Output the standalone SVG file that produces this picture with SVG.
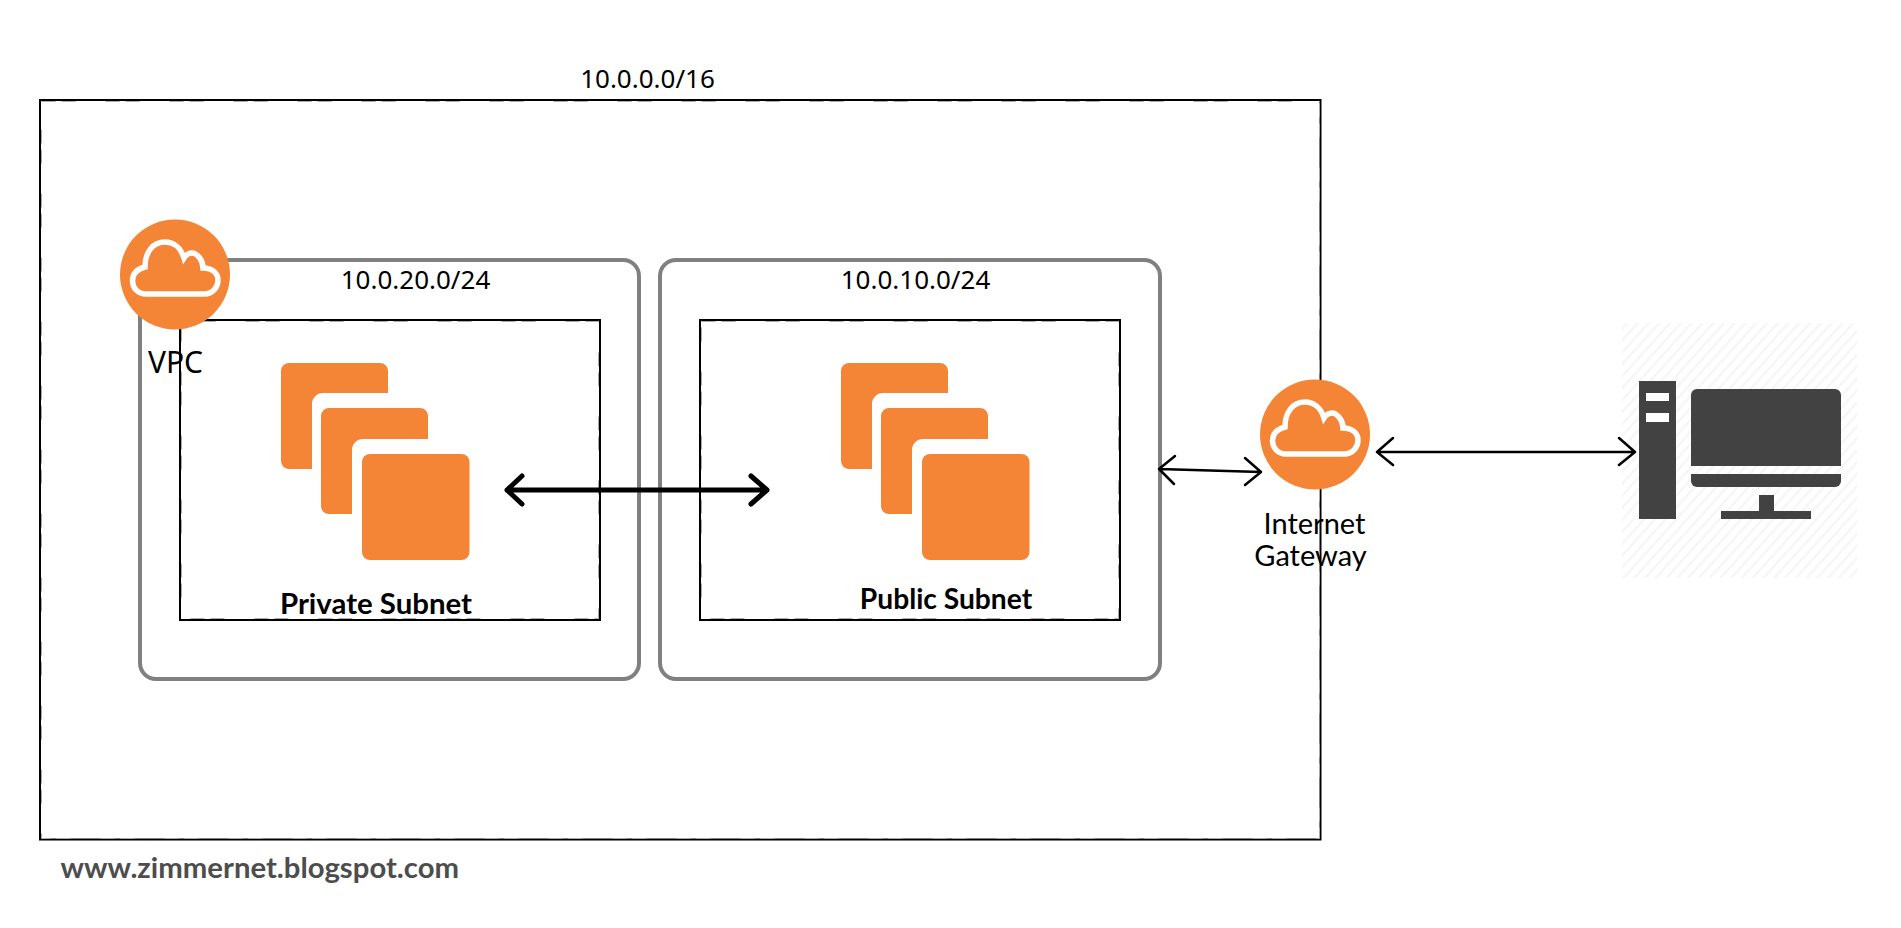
<svg xmlns="http://www.w3.org/2000/svg" xmlns:xlink="http://www.w3.org/1999/xlink" width="1901" height="928" viewBox="0 0 1901 928">
<style>
text{fill:#000}
.sans{font-family:"Noto Sans","Open Sans",sans-serif;font-size:26px}
.vpc{font-family:"Noto Sans","Open Sans",sans-serif;font-size:30px}
.lato{font-family:Lato,sans-serif;font-size:29px}
.bold{font-family:Lato,sans-serif;font-weight:700;font-size:29.400px}
.bold2{font-family:Lato,sans-serif;font-weight:700;font-size:28.200px}
.site{font-family:Lato,sans-serif;font-weight:700;font-size:29.300px;fill:#4d4d4d}
.boxk{fill:none;stroke:#000;stroke-width:2}
.boxd{fill:none;stroke:#aaa;stroke-width:1;stroke-dasharray:14 6 14 30}
.subnet{fill:none;stroke:#808080;stroke-width:4}
.or{fill:#f58536}
.dk{fill:#424242}
.wire{fill:none;stroke:#000;stroke-width:2.500;stroke-linecap:round;stroke-linejoin:round}
.thick{fill:none;stroke:#000;stroke-width:5;stroke-linecap:round;stroke-linejoin:round}
</style>
<defs>
<pattern id="hatch" width="8" height="8" patternUnits="userSpaceOnUse" patternTransform="rotate(42)">
<rect width="8" height="8" fill="#fff"/><rect width="2.500" height="8" fill="#f6f6f6"/>
</pattern>
<path id="cloud" d="M146 294H204C213 294 218 287 218 280C218 273 212 268 203 268C203 260 197 253 192 253C188 253 186 255 184 258C181 248 174 242 165 242C153 242 145 252 145 267C137 269 132.5 274 132.5 281C132.5 288 138 294 146 294Z" fill="none" stroke="#fff" stroke-width="5.500"/>
<g id="stack">
<path class="or" d="M289 363H380a8 8 0 0 1 8 8V393H323a11 11 0 0 0-11 11V469H289a8 8 0 0 1-8-8V371a8 8 0 0 1 8-8Z"/>
<path class="or" d="M329 408H420a8 8 0 0 1 8 8V439H363a11 11 0 0 0-11 11V514H329a8 8 0 0 1-8-8V416a8 8 0 0 1 8-8Z"/>
<rect class="or" x="362" y="454" width="107.500" height="106" rx="8"/>
</g>
</defs>
<g id="vpc-box"><rect class="boxk" x="40" y="100" width="1280.500" height="739.500"/><rect class="boxd" x="41.500" y="101.500" width="1278" height="737"/><text class="sans" x="647.500" y="88" text-anchor="middle">10.0.0.0/16</text></g>
<g id="private-group"><rect class="subnet" x="140" y="260" width="499" height="419" rx="16"/><text class="sans" x="415.500" y="288.500" text-anchor="middle">10.0.20.0/24</text></g>
<g id="public-group"><rect class="subnet" x="660" y="260" width="500" height="419" rx="16"/><text class="sans" x="915.500" y="288.500" text-anchor="middle">10.0.10.0/24</text></g>
<g id="private-subnet"><rect class="boxk" x="180" y="320" width="420" height="300"/><rect class="boxd" x="181.500" y="321.500" width="417" height="297"/><use xlink:href="#stack" href="#stack"/><text class="bold" x="376" y="614" text-anchor="middle">Private Subnet</text></g>
<g id="public-subnet"><rect class="boxk" x="700" y="320" width="420" height="300"/><rect class="boxd" x="701.500" y="321.500" width="417" height="297"/><use xlink:href="#stack" href="#stack" x="560"/><text class="bold2" x="946" y="609" text-anchor="middle">Public Subnet</text></g>
<g id="vpc-icon"><circle class="or" cx="175" cy="274.500" r="55"/><use xlink:href="#cloud" href="#cloud"/><text class="vpc" x="175.500" y="373" text-anchor="middle">VPC</text></g>
<g id="internet-gateway"><circle class="or" cx="1315" cy="434.500" r="55"/><use xlink:href="#cloud" href="#cloud" x="1140" y="160"/><text class="lato" x="1314.500" y="534" text-anchor="middle">Internet</text><text class="lato" x="1310.500" y="566" text-anchor="middle">Gateway</text></g>
<g id="computer">
<rect x="1622" y="323" width="235" height="255" fill="url(#hatch)"/>
<rect class="dk" x="1639" y="381" width="37" height="138"/>
<rect x="1646" y="393" width="23" height="8" fill="#fff"/><rect x="1646" y="413" width="23" height="9" fill="#fff"/>
<path class="dk" d="M1697 389H1835a6 6 0 0 1 6 6V466H1691V395a6 6 0 0 1 6-6Z"/>
<path class="dk" d="M1691 474H1841V481a6 6 0 0 1-6 6H1697a6 6 0 0 1-6-6Z"/>
<rect class="dk" x="1759" y="495" width="15" height="16"/><rect class="dk" x="1721" y="511" width="90" height="8"/>
</g>
<g id="connectors">
<path class="thick" d="M507 490H767M522 476L507 490L522 504M751 476L767 490L751 504"/>
<path class="wire" d="M1159 469L1261 472M1175 456L1159 469L1174 484M1245 458L1261 472L1245 485"/>
<path class="wire" d="M1377 452H1635M1393 438L1377 452L1393 465M1619 438L1635 452L1619 465"/>
</g>
<text class="site" x="60.500" y="878">www.zimmernet.blogspot.com</text>
</svg>
